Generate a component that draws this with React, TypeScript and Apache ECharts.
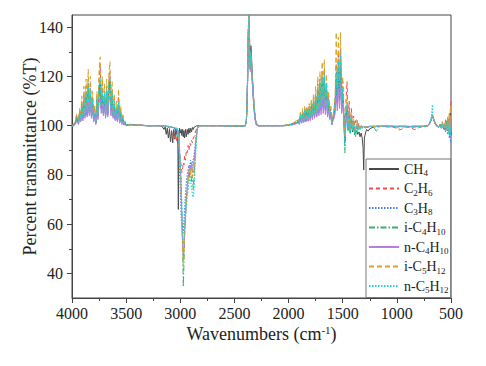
import React, { useEffect, useRef } from 'react';
import * as echarts from 'echarts';

const seriesNames = ['CH4', 'C2H6', 'C3H8', 'i-C4H10', 'n-C4H10', 'i-C5H12', 'n-C5H12'];
const yTickValues = [40, 60, 80, 100, 120, 140];
const yMinorTickValues = [50, 70, 90, 110, 130];

// Wavenumbers (cm-1), descending, in five regions
const wavenumbers = [
  // A: 4000-3500 (49)
  4000, 3985, 3970, 3955, 3940, 3930, 3920, 3910, 3900, 3890, 3880, 3870, 3860, 3850, 3840, 3830, 3820, 3810, 3800, 3790,
  3780, 3770, 3760, 3750, 3740, 3730, 3720, 3710, 3700, 3690, 3680, 3670, 3660, 3650, 3640, 3630, 3620, 3610, 3600, 3590,
  3580, 3570, 3560, 3550, 3540, 3530, 3520, 3510, 3500,
  // B: 3450-2800 (49)
  3450, 3400, 3350, 3300, 3250, 3200, 3170, 3150, 3140, 3130, 3120, 3110, 3100, 3090, 3080, 3070, 3060, 3050, 3040, 3030,
  3022, 3018, 3014, 3008, 3000, 2992, 2985, 2978, 2972, 2966, 2960, 2952, 2944, 2936, 2928, 2920, 2912, 2904, 2896, 2888,
  2880, 2872, 2864, 2856, 2848, 2840, 2825, 2810, 2800,
  // C: 2700-2200 (22)
  2700, 2600, 2500, 2450, 2400, 2390, 2385, 2378, 2372, 2366, 2360, 2354, 2348, 2342, 2336, 2328, 2320, 2310, 2300, 2280,
  2250, 2200,
  // D: 2150-1300 (69)
  2150, 2100, 2050, 2000, 1960, 1930, 1910,
  1900, 1890, 1880, 1870, 1860, 1850, 1840, 1830, 1820, 1810,
  1800, 1790, 1780, 1770, 1760, 1750, 1740, 1730, 1720, 1710,
  1700, 1690, 1680, 1670, 1660, 1650, 1640, 1630, 1620, 1610,
  1600, 1590, 1580, 1570, 1560, 1550, 1540, 1530, 1520, 1510,
  1500, 1490, 1480, 1470, 1460, 1450, 1440, 1430, 1420, 1410,
  1400, 1390, 1380, 1370, 1360, 1350, 1340, 1330, 1320,
  1312, 1306, 1300,
  // E: 1290-500 (47)
  1290, 1280, 1265, 1250, 1230, 1210, 1190, 1180, 1170, 1150, 1120, 1080, 1040, 1000, 980, 960, 920, 880, 840, 820,
  800, 760, 730, 710, 700, 690, 680, 672, 667, 662, 655, 645, 630, 615, 600, 590, 580, 570, 560, 550,
  540, 530, 520, 515, 510, 505, 500,
];

const ch4 = [
  100, 100.2, 101, 103, 101, 104.5, 102, 108, 103, 110, 104, 113, 104.5, 115, 105, 113, 104, 109, 102.5, 105,
  101, 109, 104, 114, 117, 107, 113, 105, 111, 104, 113, 104.5, 115, 118, 106, 112, 104, 108.5, 102.5, 106,
  102, 109, 101.5, 104.5, 101, 103, 100.5, 101, 100.2,
  100.5, 100.3, 100.2, 100, 100, 100, 99.8, 98.5, 99.5, 96.5, 99, 95, 98.5, 93.5, 98, 93, 98.5, 94.5, 99, 96,
  92, 66, 93, 99, 97, 98.5, 96, 98.5, 95.5, 98, 95, 98.5, 95.5, 98.5, 96.5, 99, 97, 99, 97.5, 99.3,
  98.5, 99.5, 99.5, 99.8, 100, 100, 100, 100, 100,
  100, 100, 99.9, 99.9, 100, 102, 107, 120, 137, 147, 133, 124, 132.5, 128, 121, 115, 109, 104, 101, 100,
  100, 100,
  100, 100, 100, 100.3, 100.7, 101.1, 101.8,
  101, 103.5, 101.3, 104.5, 101.8, 105.5, 102, 106, 102.5, 106.5,
  103, 107.5, 103.5, 109, 104, 111, 104.5, 114, 105.5, 116,
  106.5, 118, 107.5, 119, 106.5, 115, 105, 109.5, 103.5, 105.5,
  100.8, 102.8, 104.5, 107.5, 119, 109.5, 124, 111, 126, 107.5,
  113, 103, 94, 103.5, 107, 98.5, 105, 97, 103, 97.5,
  100, 96.5, 97.5, 98, 96.5, 97.5, 95.5, 97, 95,
  91, 82, 95,
  97, 98.5, 97.8, 98.8, 99.2, 99.5, 99.7, 99.8, 99.8, 99.8, 99.8, 99.8, 99.8, 99.7, 99.8, 99.8, 99.8, 99.7, 99.8, 99.8,
  99.8, 99.8, 99.9, 100.2, 100.8, 101.8, 103, 104, 103.6, 103, 102, 101, 100, 99.6, 100.4, 99.5, 100.8, 99.8, 99, 101.5,
  99.5, 102, 98.5, 103.5, 97, 105, 96,
];

const c2h6 = [
  100, 100.5, 101.5, 104, 101.5, 106, 102.5, 110, 103.5, 113, 105, 116, 106, 119, 107, 117, 105, 112, 103, 107,
  101.5, 112, 105, 119, 125, 110, 117, 107, 114, 105, 116, 106, 118, 122, 108, 115, 105, 111, 103.5, 108,
  103, 112, 102.5, 107, 101.5, 104, 101, 101.5, 100.5,
  100.5, 100.3, 100.2, 100, 100, 100, 100, 99.8, 99.8, 99.6, 99.6, 99.3, 99, 98.5, 97.5, 96.5, 97, 95, 96, 93,
  94, 90, 91, 88, 86, 84, 81, 83, 85, 84, 88, 86, 90, 89, 92, 90, 93, 92, 94, 93,
  95, 95.5, 97, 98, 99, 99.6, 100, 100, 100,
  100, 100, 99.9, 99.8, 100, 102, 107, 121, 139, 148, 136, 125, 130, 126, 120, 114, 108, 103.5, 100.8, 100,
  100, 100,
  100, 100, 100.1, 100.4, 101, 101.5, 102.5,
  101, 105, 101.5, 106, 102, 107, 102.5, 107, 103, 108,
  103.5, 109, 104, 111, 104.5, 113, 105.5, 117, 106.5, 119,
  108, 122, 109, 123, 107.5, 118, 105.5, 112, 104, 107,
  101, 103.5, 106, 110, 125, 112, 130, 114, 131, 112,
  118, 108, 97, 110, 118, 104, 110, 100, 107, 101,
  104, 100, 102, 103, 99.5, 101, 99.5, 100, 99.6,
  99.8, 99.8, 99.8,
  99.3, 99.5, 99.5, 99.6, 99.7, 99.7, 99.8, 99.8, 99.8, 99.7, 99.6, 99.5, 99.4, 99, 98.3, 98.5, 99.5, 99.3, 98.5, 98.3,
  99.2, 99.6, 99.7, 100, 100.6, 101.6, 102.8, 104, 103.4, 102.8, 101.8, 100.8, 99.8, 99.2, 100.6, 99, 101.5, 99.5, 98.5, 102.5,
  98.5, 103.5, 97.5, 105, 96, 107, 110,
];

const c3h8 = [
  100, 100, 101, 102.5, 101, 104, 102, 107, 103, 110, 104, 112, 104, 114, 105, 112, 103.5, 109, 102, 105,
  101, 109, 103.5, 113, 116, 107, 112, 105, 111, 104, 112, 104.5, 114, 117, 105, 111, 103.5, 108, 102.5, 106,
  102, 108, 101.5, 104, 101, 102.5, 100.5, 101, 100.2,
  100.5, 100.2, 100.2, 100, 100, 100, 100, 100, 99.8, 99.8, 99.7, 99.6, 99.5, 99.4, 99.3, 99.2, 99, 98.8, 98.5, 98,
  96, 93, 89, 83, 74, 64, 58, 56, 57, 61, 66, 72, 77, 80, 82, 84, 83, 86, 82, 85,
  86, 88, 91, 95, 98, 99.5, 100, 100, 100,
  100, 100, 99.9, 99.8, 100, 101.8, 106.5, 119, 136, 147, 133, 123, 128, 124, 119, 113, 107.5, 103, 100.6, 100,
  100, 100,
  100, 100, 100, 100.2, 100.6, 101, 101.5,
  100.8, 103.5, 101.2, 104, 101.5, 105, 102, 105.5, 102, 106,
  102.5, 107, 103, 108.5, 103.5, 110, 104, 113, 105, 115,
  106, 117, 107, 118, 106, 114, 104.5, 109, 103.5, 105,
  100.5, 102.5, 104, 107, 118, 109, 122, 110, 125, 107,
  113, 104, 93, 103, 107, 99, 104, 97.5, 103, 98.5,
  101, 97, 98, 100, 98.5, 99.8, 99, 99.6, 99.3,
  99.5, 99.5, 99.6,
  99.3, 99.6, 99.6, 99.7, 99.8, 99.8, 99.8, 99.8, 99.8, 99.8, 99.8, 99.8, 99.7, 99.7, 99.7, 99.7, 99.7, 99.7, 99.6, 99.6,
  99.7, 99.7, 99.8, 100.1, 100.7, 101.7, 103, 104.5, 103.5, 102.8, 101.8, 100.8, 99.8, 99.4, 100.2, 99, 100.5, 98.5, 99.8, 97.5,
  101, 96.5, 100, 95, 98, 94, 93,
];

const iC4H10 = [
  100, 100, 101, 103, 101, 105, 102, 108, 103, 111, 104, 113, 105, 116, 105, 114, 104, 110, 102.5, 105,
  101, 110, 104, 115, 118, 108, 114, 105, 112, 104, 114, 105, 116, 119, 106, 113, 104, 109, 103, 106,
  102, 110, 102, 105, 101, 103, 100.5, 101, 100.2,
  100.4, 100.2, 100.1, 100, 100, 100, 100, 100, 99.9, 99.8, 99.8, 99.7, 99.6, 99.5, 99.4, 99.3, 99.2, 99, 99, 99,
  98.5, 97.5, 96, 92, 86, 77, 65, 49, 34.5, 44, 55, 63, 70, 74, 78, 82, 79, 83, 77, 80,
  74, 80, 87, 93, 97, 99, 99.7, 100, 100,
  100, 99.9, 99.8, 99.8, 100, 101.8, 106.5, 119, 136, 147, 132, 123, 129, 125, 119, 113.5, 108, 103.5, 100.8, 100,
  100, 100,
  100, 100, 100, 100.3, 100.8, 101.2, 102,
  101, 104, 101.5, 105, 102, 106, 102, 106.5, 102.5, 107,
  103, 108, 103.5, 110, 104, 112, 105, 115, 106, 117,
  107, 119, 108, 120, 107, 116, 105, 110, 104, 106,
  101, 103, 105, 108, 120, 110, 126, 112, 128, 108,
  115, 103, 89, 104, 108, 98, 106, 97, 104, 98,
  102, 96, 95.5, 100.5, 98, 100, 98.5, 99.5, 99,
  99.5, 99.5, 99.5,
  99, 99.3, 99.4, 99.6, 99.7, 99.2, 97.8, 98.2, 99.3, 99.7, 99.8, 99.8, 99.7, 99.7, 99.6, 99.6, 99.6, 99.5, 99.6, 99.6,
  99.7, 99.7, 99.8, 100.2, 100.8, 101.8, 103, 104.2, 103.6, 103, 102, 101, 100, 99.5, 100.5, 99.5, 101.5, 99, 100.5, 98.5,
  102, 98, 101.5, 97, 103, 96, 101,
];

const nC4H10 = [
  100, 100, 100.5, 102, 100.5, 103, 101.5, 105, 102, 107, 103, 109, 103.5, 111, 104, 110, 103, 107, 101.5, 104,
  100.5, 106, 102.5, 109, 111, 105, 109, 104, 108, 103, 109, 103.5, 110, 112, 104, 108, 103, 106, 102, 104.5,
  101.5, 106, 101, 103, 100.5, 102, 100.3, 100.5, 100,
  100.3, 100.2, 100.1, 100, 100, 100, 100, 100, 99.9, 99.9, 99.8, 99.8, 99.7, 99.6, 99.5, 99.4, 99.3, 99.2, 99, 98.8,
  98, 96.5, 94, 90, 83, 73, 62, 52, 47, 51, 58, 65, 71, 75, 79, 82, 84, 82, 85, 81,
  84, 86, 90, 94, 97.5, 99.3, 100, 100, 100,
  100, 100, 99.9, 99.9, 100, 101.7, 106, 118, 135, 146, 131, 122, 127, 123, 118, 112, 107, 102.5, 100.5, 100,
  100, 100,
  100, 100, 100, 100.1, 100.4, 100.8, 101.2,
  100.5, 102.5, 101, 103, 101.2, 103.5, 101.5, 104, 101.8, 104.5,
  102, 105, 102.5, 106, 103, 107, 103.5, 109, 104, 110,
  104.5, 112, 105, 112, 104.5, 110, 103.5, 106, 102.5, 104,
  100.3, 102, 103, 105, 112, 106, 115, 107, 117, 105,
  109, 102, 96, 102, 104, 99, 102.5, 98.5, 101.5, 99,
  100.5, 98, 99, 100, 99, 99.8, 99.3, 99.7, 99.5,
  99.7, 99.7, 99.7,
  99.5, 99.7, 99.7, 99.8, 99.8, 99.8, 99.8, 99.8, 99.8, 99.8, 99.8, 99.8, 99.8, 99.8, 99.8, 99.8, 99.8, 99.7, 99.8, 99.8,
  99.8, 99.8, 99.9, 100.1, 100.6, 101.5, 102.6, 103.6, 103.2, 102.6, 101.6, 100.6, 99.8, 99.6, 100.2, 99.5, 100.5, 99.5, 99, 101,
  99, 101.5, 98, 102, 97.5, 103, 98,
];

const iC5H12 = [
  100, 100.5, 102, 105, 102, 107, 103, 112, 104, 116, 106, 119, 107, 123, 108, 120, 106, 114, 104, 108,
  102, 114, 106, 122, 128, 112, 120, 108, 117, 106, 119, 107, 121, 126, 109, 118, 106, 113, 104, 110,
  104, 115, 103, 108, 102, 105, 101, 102, 100.5,
  100.6, 100.3, 100.2, 100, 100, 100, 100, 100, 99.9, 99.8, 99.8, 99.7, 99.6, 99.5, 99.4, 99.3, 99.2, 99, 98.8, 98.5,
  97.5, 96, 93.5, 89, 82, 72, 60, 49, 43, 48, 56, 63, 69, 74, 77, 80, 83, 80, 84, 79,
  82, 80, 86, 92, 96.5, 99, 99.8, 100, 100,
  100, 100, 99.9, 99.8, 100, 102, 107, 120, 138, 148, 134, 124, 129, 126, 121, 116, 110, 105, 101.5, 100.2,
  100, 100,
  100, 100, 100.2, 100.5, 101, 102, 103,
  101.5, 106, 102, 107, 102.5, 108, 103, 108, 103, 109,
  104, 111, 104, 113, 105, 116, 106, 120, 107, 122,
  109, 126, 110, 127, 108, 121, 106, 114, 104, 108,
  101, 104, 107, 112, 138, 115, 136, 118, 138, 110,
  120, 104, 96, 108, 112, 100, 107, 98, 105, 99,
  103, 97.5, 99, 102, 98.5, 100.5, 99, 100, 99.5,
  99.8, 99.8, 99.8,
  99.3, 99.6, 99.6, 99.7, 99.7, 99.7, 99.6, 99.7, 99.7, 99.7, 99.7, 99.6, 99.5, 99.3, 99, 99.2, 99.6, 99.5, 99.3, 99,
  99.4, 99.6, 99.7, 100.1, 100.7, 101.7, 103, 104.2, 103.5, 102.9, 101.9, 100.9, 99.9, 99.4, 100.6, 99.2, 101.8, 99.2, 99, 102,
  98.5, 104, 98, 105.5, 97, 108, 104,
];

const nC5H12 = [
  100, 100.3, 101, 103, 101.5, 105, 102.5, 109, 103.5, 112, 104.5, 114, 105.5, 117, 106, 115, 104.5, 111, 103, 106,
  101.5, 111, 104.5, 116, 120, 108, 115, 106, 113, 104.5, 115, 105.5, 117, 120, 107, 114, 104.5, 110, 103, 107,
  102.5, 110, 102, 105.5, 101, 103.5, 100.8, 101.2, 100.3,
  100.4, 100.2, 100.1, 100, 100, 100, 100, 100, 99.9, 99.9, 99.8, 99.8, 99.7, 99.6, 99.5, 99.4, 99.3, 99.2, 99, 98.8,
  98.3, 97, 95, 91, 85, 76, 66, 57, 52, 53, 57, 62, 67, 71, 74, 77, 79, 77, 75, 72,
  71, 75, 83, 90, 95.5, 98.8, 99.8, 100, 100,
  100, 100, 99.9, 99.8, 100, 102, 107, 120, 137, 147, 133, 124, 130, 126, 120, 114, 108.5, 103.5, 100.8, 100,
  100, 100,
  100, 100, 100.1, 100.3, 100.8, 101.3, 102,
  101, 104.5, 101.5, 105.5, 102, 106.5, 102.5, 107, 103, 107.5,
  103.5, 108.5, 104, 110.5, 104.5, 112.5, 105.5, 116, 106.5, 118,
  107.5, 120, 108.5, 121, 107.5, 117, 105.5, 111, 104, 106.5,
  101, 103, 105.5, 109, 122, 111, 127, 113, 130, 109,
  116, 103.5, 91, 105, 109, 98.5, 106, 97, 104, 98,
  102, 96.5, 97, 100.5, 98, 100, 98.7, 99.5, 99.2,
  99.5, 99.5, 99.6,
  99.2, 99.5, 99.6, 99.7, 99.8, 99.8, 99.8, 99.8, 99.8, 99.8, 99.8, 99.8, 99.7, 99.7, 99.7, 99.7, 99.7, 99.6, 99.6, 99.6,
  99.7, 99.7, 99.8, 100.2, 100.8, 102, 104, 108.5, 103.8, 103, 102, 101, 100, 99.5, 100.4, 99.3, 101, 99.3, 99.6, 100.5,
  98, 102.5, 97, 101, 99, 95, 100,
];

const seriesValues = [ch4, c2h6, c3h8, iC4H10, nC4H10, iC5H12, nC5H12];
seriesValues.forEach((s, i) => {
  if (s.length !== wavenumbers.length) {
    throw new Error(`length mismatch ${seriesNames[i]}: ${s.length} vs ${wavenumbers.length}`);
  }
});

const lineStyles: { color: string; type: any; width: number }[] = [
  { color: '#4a4a4a', type: 'solid', width: 1 },
  { color: '#f24c4c', type: [4, 3], width: 1 },
  { color: '#3f7fea', type: [1.5, 1.5], width: 1.2 },
  { color: '#3cae70', type: [6, 2, 1.5, 2], width: 1 },
  { color: '#b67de2', type: 'solid', width: 1 },
  { color: '#daa22a', type: [5, 3], width: 1 },
  { color: '#22d2d2', type: [1.5, 1.5], width: 1.2 },
];

const FONT = 'Liberation Serif';

function toRich(name: string): string {
  return name
    .split(/(\d+)/)
    .filter((s) => s.length > 0)
    .map((s) => (/^\d+$/.test(s) ? `{s|${s}}` : `{n|${s}}`))
    .join('');
}

export default function App() {
  const ref = useRef<HTMLDivElement>(null);
  useEffect(() => {
    if (!ref.current) return;
    const chart = echarts.init(ref.current, undefined, { renderer: 'svg' });
    const axisColor = '#444';
    chart.setOption({
      animation: false,
      backgroundColor: '#fff',
      grid: {
        left: 72, right: 35, top: 15, bottom: 68,
        show: true, borderColor: axisColor, borderWidth: 1, backgroundColor: 'transparent',
      },
      legend: {
        orient: 'vertical',
        left: 366,
        top: 159,
        itemWidth: 30,
        itemHeight: 10,
        itemGap: 4,
        padding: [3, 2, 3, 2],
        borderColor: '#777',
        borderWidth: 1,
        backgroundColor: '#fff',
        itemStyle: { opacity: 0 },
        data: seriesNames,
        formatter: (name: string) => toRich(name),
        textStyle: {
          rich: {
            n: { fontSize: 14, fontFamily: FONT, color: '#222', lineHeight: 17 },
            s: { fontSize: 9, fontFamily: FONT, color: '#222', lineHeight: 9, verticalAlign: 'bottom' },
          },
        },
      },
      xAxis: {
        type: 'value',
        min: 500,
        max: 4000,
        interval: 500,
        inverse: true,
        name: '{a|Wavenumbers (cm}{b|-1}{a|)}',
        nameLocation: 'middle',
        nameGap: 26,
        nameMoveOverlap: false,
        nameTextStyle: {
          rich: {
            a: { fontSize: 18, fontFamily: FONT, color: '#222', lineHeight: 20 },
            b: { fontSize: 11, fontFamily: FONT, color: '#222', lineHeight: 11, verticalAlign: 'top' },
          },
        },
        axisLine: { show: true, onZero: false, lineStyle: { color: axisColor, width: 1 } },
        axisTick: { show: true, inside: false, length: 5, lineStyle: { color: axisColor } },
        minorTick: { show: true, splitNumber: 2, length: 3, lineStyle: { color: axisColor } },
        axisLabel: {
          fontSize: 16, fontFamily: FONT, color: '#222', margin: 7,
          formatter: (v: number) => String(v),
        },
        splitLine: { show: false },
        minorSplitLine: { show: false },
      },
      yAxis: [
        {
          type: 'value',
          min: 30,
          max: 145,
          position: 'left',
          name: 'Percent transmittance (%T)',
          nameLocation: 'middle',
          nameGap: 33,
          nameMoveOverlap: false,
          nameTextStyle: { fontSize: 18, fontFamily: FONT, color: '#222' },
          axisLine: { show: true, onZero: false, lineStyle: { color: axisColor, width: 1 } },
          axisTick: { show: true, inside: false, length: 5, customValues: yTickValues, lineStyle: { color: axisColor } },
          axisLabel: {
            customValues: yTickValues, fontSize: 16, fontFamily: FONT, color: '#222', margin: 9,
            formatter: (v: number) => String(v),
          },
          splitLine: { show: false },
        },
        {
          type: 'value',
          min: 30,
          max: 145,
          position: 'left',
          offset: 0,
          axisLine: { show: false },
          axisTick: { show: true, inside: false, length: 3, customValues: yMinorTickValues, lineStyle: { color: axisColor } },
          axisLabel: { show: false },
          splitLine: { show: false },
        },
      ],
      series: seriesNames.map((name, i) => ({
        name,
        type: 'line',
        xAxisIndex: 0,
        yAxisIndex: 0,
        symbol: 'none',
        showSymbol: false,
        clip: true,
        lineStyle: lineStyles[i],
        itemStyle: { color: lineStyles[i].color },
        data: wavenumbers.map((w, k) => [w, seriesValues[i][k]]),
      })),
    });
    return () => chart.dispose();
  }, []);
  return (
    <div
      ref={ref}
      style={{ position: 'fixed', left: 0, top: 0, width: 486, height: 366, background: '#fff' }}
    />
  );
}
